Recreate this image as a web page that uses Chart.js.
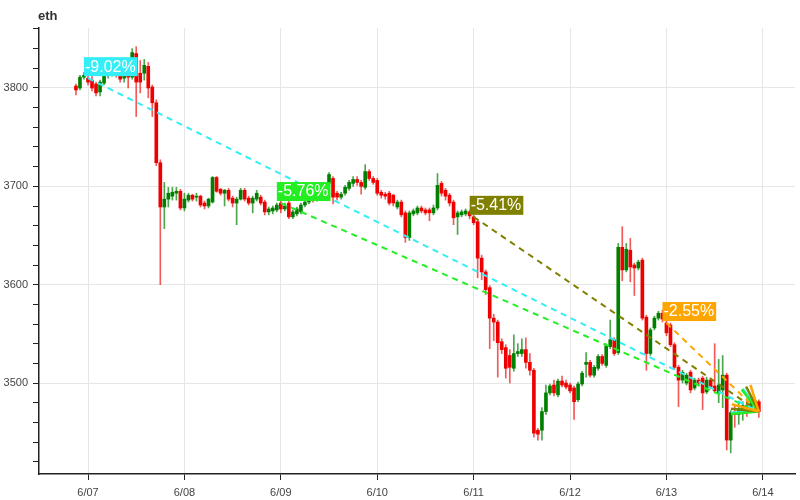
<!DOCTYPE html>
<html>
<head>
<meta charset="utf-8">
<script src="https://cdn.jsdelivr.net/npm/chart.js@4"></script>
<style>
  html, body { margin: 0; padding: 0; background: #fff; }
  #wrap { width: 800px; height: 500px; position: relative; }
</style>
</head>
<body>
<div id="wrap"><canvas id="ethChart"></canvas></div>
<script>
// hourly candles, first one is 6/06 21:00 (hour -3 counted from 6/07 00:00)
const startHour = -3;

const opens = [
  3802, 3800, 3811, 3810, 3808, 3804, 3796, 3805, 3813, 3816,
  3818, 3813, 3810, 3814, 3811, 3835, 3815, 3815, 3822, 3801,
  3785, 3724, 3679, 3687, 3690, 3693, 3695, 3678, 3686, 3691,
  3689, 3690, 3683, 3680, 3684, 3709, 3697, 3693, 3696, 3688,
  3683, 3687, 3696, 3688, 3683, 3687, 3689, 3684, 3674, 3675,
  3676, 3683, 3677, 3683, 3669, 3672, 3674, 3681, 3684, 3688,
  3686, 3692, 3695, 3703, 3708, 3693, 3689, 3693, 3698, 3703,
  3707, 3704, 3699, 3715, 3708, 3706, 3694, 3692, 3693, 3691,
  3679, 3684, 3673, 3648, 3672, 3673, 3678, 3676, 3676, 3673,
  3678, 3703, 3696, 3691, 3684, 3669, 3671, 3672, 3674, 3669,
  3664, 3627, 3613, 3597, 3566, 3562, 3542, 3536, 3528, 3515,
  3530, 3530, 3534, 3521, 3513, 3452, 3452, 3471, 3490, 3498,
  3488, 3502, 3500, 3498, 3495, 3483, 3499, 3519, 3521, 3508,
  3515, 3527, 3518, 3537, 3544, 3531, 3638, 3615, 3635, 3620,
  3617, 3625, 3567, 3530, 3556, 3566, 3571, 3561, 3559, 3539,
  3516, 3503, 3500, 3511, 3495, 3503, 3505, 3491, 3503, 3497,
  3490, 3493, 3508, 3442, 3470, 3468, 3473, 3477, 3474, 3482,
  3481
];
const highs = [
  3804, 3813, 3816, 3815, 3812, 3806, 3808, 3816, 3820, 3822,
  3821, 3817, 3818, 3816, 3840, 3842, 3828, 3829, 3826, 3803,
  3788, 3727, 3704, 3699, 3699, 3699, 3697, 3693, 3693, 3692,
  3693, 3691, 3685, 3688, 3710, 3710, 3698, 3697, 3698, 3690,
  3689, 3698, 3698, 3690, 3690, 3696, 3691, 3686, 3679, 3680,
  3683, 3685, 3683, 3685, 3676, 3679, 3683, 3686, 3690, 3691,
  3694, 3699, 3704, 3714, 3710, 3695, 3694, 3701, 3706, 3710,
  3710, 3706, 3722, 3717, 3710, 3708, 3696, 3694, 3695, 3692,
  3686, 3686, 3675, 3675, 3677, 3680, 3680, 3678, 3678, 3681,
  3713, 3705, 3698, 3693, 3686, 3675, 3676, 3677, 3676, 3671,
  3666, 3630, 3615, 3599, 3570, 3564, 3545, 3539, 3534, 3549,
  3540, 3545, 3546, 3530, 3515, 3454, 3475, 3498, 3499, 3503,
  3504, 3507, 3503, 3500, 3497, 3501, 3512, 3531, 3523, 3518,
  3529, 3529, 3540, 3564, 3546, 3642, 3659, 3642, 3647, 3622,
  3625, 3627, 3569, 3556, 3568, 3573, 3574, 3563, 3561, 3541,
  3518, 3513, 3510, 3513, 3505, 3505, 3507, 3506, 3505, 3540,
  3524, 3528, 3510, 3472, 3478, 3480, 3481, 3484, 3486, 3485,
  3483
];
const lows = [
  3793, 3798, 3809, 3803, 3797, 3792, 3792, 3803, 3810, 3812,
  3811, 3806, 3806, 3800, 3809, 3771, 3795, 3808, 3790, 3771,
  3721, 3600, 3657, 3679, 3686, 3686, 3676, 3675, 3684, 3685,
  3685, 3679, 3677, 3678, 3683, 3694, 3691, 3680, 3685, 3679,
  3661, 3686, 3685, 3681, 3673, 3685, 3681, 3671, 3671, 3672,
  3674, 3673, 3675, 3667, 3667, 3670, 3672, 3679, 3682, 3684,
  3685, 3690, 3692, 3700, 3682, 3686, 3687, 3691, 3696, 3700,
  3701, 3692, 3697, 3706, 3702, 3691, 3688, 3687, 3681, 3680,
  3677, 3669, 3643, 3645, 3670, 3671, 3673, 3671, 3665, 3671,
  3676, 3690, 3686, 3680, 3661, 3651, 3669, 3670, 3667, 3661,
  3607, 3605, 3590, 3535, 3543, 3506, 3530, 3505, 3500, 3512,
  3527, 3527, 3515, 3508, 3445, 3442, 3442, 3468, 3488, 3487,
  3486, 3496, 3494, 3490, 3463, 3481, 3497, 3506, 3506, 3506,
  3513, 3518, 3516, 3535, 3528, 3529, 3604, 3613, 3603, 3589,
  3615, 3564, 3513, 3528, 3554, 3564, 3562, 3548, 3537, 3514,
  3476, 3500, 3498, 3490, 3493, 3497, 3473, 3489, 3494, 3490,
  3480, 3475, 3432, 3429, 3455, 3458, 3462, 3466, 3470, 3472,
  3465
];
const closes = [
  3798, 3811, 3813, 3806, 3800, 3795, 3806, 3813, 3816, 3818,
  3814, 3809, 3815, 3811, 3836, 3806, 3806, 3823, 3800, 3785,
  3724, 3679, 3687, 3693, 3694, 3695, 3678, 3687, 3691, 3687,
  3690, 3681, 3680, 3687, 3709, 3695, 3693, 3696, 3687, 3683,
  3687, 3696, 3687, 3683, 3688, 3693, 3683, 3674, 3677, 3678,
  3681, 3677, 3680, 3669, 3674, 3677, 3681, 3684, 3688, 3686,
  3692, 3697, 3702, 3712, 3689, 3689, 3692, 3699, 3704, 3707,
  3704, 3700, 3715, 3708, 3704, 3693, 3691, 3690, 3683, 3683,
  3684, 3671, 3648, 3673, 3675, 3678, 3675, 3673, 3673, 3678,
  3701, 3693, 3690, 3683, 3668, 3673, 3674, 3675, 3670, 3663,
  3627, 3613, 3595, 3566, 3562, 3541, 3534, 3515, 3516, 3530,
  3532, 3534, 3521, 3513, 3449, 3448, 3471, 3490, 3497, 3490,
  3502, 3498, 3496, 3492, 3481, 3499, 3510, 3521, 3508, 3516,
  3527, 3520, 3538, 3544, 3530, 3638, 3615, 3636, 3618, 3617,
  3623, 3566, 3530, 3554, 3566, 3571, 3565, 3551, 3539, 3516,
  3503, 3511, 3508, 3493, 3503, 3500, 3490, 3503, 3496, 3492,
  3498, 3508, 3442, 3470, 3468, 3474, 3477, 3474, 3481, 3478,
  3471
];

const dayHours = [0, 24, 48, 72, 96, 120, 144, 168];
const dayLabels = ["6/07", "6/08", "6/09", "6/10", "6/11", "6/12", "6/13", "6/14"];
const yTickValues = [3420, 3440, 3460, 3480, 3500, 3520, 3540, 3560, 3580, 3600, 3620,
  3640, 3660, 3680, 3700, 3720, 3740, 3760, 3780, 3800, 3820, 3840, 3860];

// change from the first open of a day to the last close
const trendStartHours = [0, 48, 96, 144];
const trendLabels = ["-9.02%", "-5.76%", "-5.41%", "-2.55%"];
const trendColors = ["#33eef6", "#22ee22", "#808000", "#ffa500"];

const UP = "rgb(0,128,0)";
const DOWN = "rgb(238,0,0)";

const last = closes.length - 1;
const lastHour = startHour + last;

const bodyData = opens.map((o, i) => ({ x: startHour + i, y: [o, closes[i]] }));
const wickData = lows.map((l, i) => ({ x: startHour + i, y: [l, highs[i]] }));
const bodyColors = opens.map((o, i) => (closes[i] >= o ? UP : DOWN));
const wickColors = opens.map((o, i) => (closes[i] >= o ? "rgba(0,128,0,0.7)" : "rgba(238,0,0,0.65)"));

const trendSets = trendStartHours.map((h, k) => ({
  type: "line",
  data: [
    { x: h, y: opens[h - startHour] },
    { x: lastHour, y: closes[last] },
  ],
  borderColor: trendColors[k],
  borderWidth: 2,
  borderDash: [6, 5],
  pointRadius: 0,
  fill: false,
  order: 0,
}));

const overlay = {
  id: "overlay",
  afterDatasetsDraw(chart) {
    const { ctx, scales } = chart;
    const xs = scales.x, ys = scales.y;
    const x1 = xs.getPixelForValue(lastHour);
    const y1 = ys.getPixelForValue(closes[last]);

    // arrow heads
    trendStartHours.forEach((h, k) => {
      const x0 = xs.getPixelForValue(h);
      const y0 = ys.getPixelForValue(opens[h - startHour]);
      const ang = Math.atan2(y1 - y0, x1 - x0);
      ctx.save();
      ctx.strokeStyle = trendColors[k];
      ctx.lineWidth = 2.5;
      ctx.beginPath();
      [-0.5, 0.5].forEach((d) => {
        ctx.moveTo(x1, y1);
        ctx.lineTo(x1 - 28 * Math.cos(ang + d), y1 - 28 * Math.sin(ang + d));
      });
      ctx.stroke();
      ctx.restore();
    });

    // percent labels
    trendStartHours.forEach((h, k) => {
      const x0 = xs.getPixelForValue(h);
      const y0 = ys.getPixelForValue(opens[h - startHour]);
      ctx.save();
      ctx.font = '16px "Liberation Sans", Arial, sans-serif';
      const w = ctx.measureText(trendLabels[k]).width + 3;
      ctx.fillStyle = trendColors[k];
      ctx.fillRect(x0 - 4, y0 - 21, w, 19);
      ctx.fillStyle = "#fff";
      ctx.textBaseline = "middle";
      ctx.fillText(trendLabels[k], x0 - 3, y0 - 11);
      ctx.restore();
    });
  },
  afterDraw(chart) {
    const { ctx, chartArea } = chart;
    ctx.save();
    ctx.font = 'bold 13px "Liberation Sans", Arial, sans-serif';
    ctx.fillStyle = "#333";
    ctx.textBaseline = "middle";
    ctx.fillText("eth", chartArea.left - 1, 16);
    ctx.restore();
  },
};

new Chart(document.getElementById("ethChart"), {
  type: "bar",
  data: {
    datasets: [
      ...trendSets,
      {
        data: bodyData,
        backgroundColor: bodyColors,
        borderWidth: 0,
        barThickness: 3,
        minBarLength: 1,
        grouped: false,
        order: 1,
      },
      {
        data: wickData,
        backgroundColor: wickColors,
        borderWidth: 0,
        barThickness: 1,
        grouped: false,
        order: 2,
      },
    ],
  },
  options: {
    responsive: true,
    maintainAspectRatio: false,
    animation: false,
    layout: { padding: { top: 28, right: 5, left: 0, bottom: 0 } },
    plugins: {
      legend: { display: false },
      tooltip: { enabled: false },
    },
    scales: {
      x: {
        type: "linear",
        min: -12.2,
        max: 176,
        offset: false,
        grid: {
          offset: false,
          color: "#e6e6e6",
          tickColor: "#222",
          tickLength: 6,
        },
        border: { color: "#222", width: 1.5 },
        afterBuildTicks: (scale) => {
          scale.ticks = dayHours.map((v) => ({ value: v }));
        },
        afterFit: (scale) => {
          scale.height = 26;
        },
        ticks: {
          padding: 6,
          maxRotation: 0,
          autoSkip: false,
          color: "#444",
          font: { size: 11, family: '"Liberation Sans", Arial, sans-serif' },
          callback: (v) => {
            const k = dayHours.indexOf(v);
            return k >= 0 ? dayLabels[k] : "";
          },
        },
      },
      y: {
        min: 3407.5,
        max: 3861,
        beginAtZero: false,
        grid: {
          color: (c) => (c.tick && c.tick.value % 100 === 0 ? "#e6e6e6" : "rgba(0,0,0,0)"),
          tickColor: "#222",
          tickLength: 6,
        },
        border: { color: "#222", width: 1.5 },
        afterBuildTicks: (scale) => {
          scale.ticks = yTickValues.map((v) => ({ value: v }));
        },
        afterFit: (scale) => {
          scale.width = 39;
        },
        ticks: {
          padding: 5,
          autoSkip: false,
          color: "#444",
          font: { size: 11, family: '"Liberation Sans", Arial, sans-serif' },
          callback: (v) => (v % 100 === 0 ? String(v) : ""),
        },
      },
    },
  },
  plugins: [overlay],
});
</script>
</body>
</html>
